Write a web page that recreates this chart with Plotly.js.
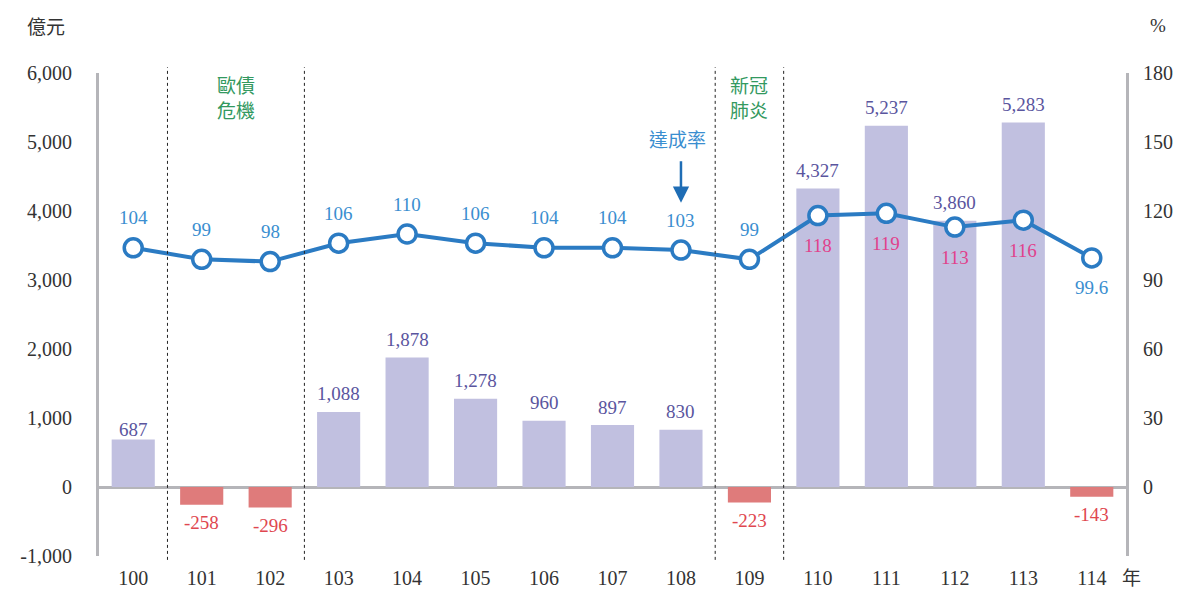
<!DOCTYPE html>
<html>
<head>
<meta charset="utf-8">
<script src="https://cdn.plot.ly/plotly-3.0.1.min.js"></script>
<style>html,body{margin:0;padding:0;background:#fff;}#chart{width:1185px;height:589px;}</style>
</head>
<body>
<div id="chart"></div>
<script>
const years = ['100','101','102','103','104','105','106','107','108','109','110','111','112','113','114'];
const profit = [687,-258,-296,1088,1878,1278,960,897,830,-223,4327,5237,3860,5283,-143];
const rate = [104,99,98,106,110,106,104,104,103,99,118,119,113,116,99.6];
const rateLabels = ['104','99','98','106','110','106','104','104','103','99','118','119','113','116','99.6'];
const rateBelow = [false,false,false,false,false,false,false,false,false,false,true,true,true,true,true];
const leftTicks = [-1000,0,1000,2000,3000,4000,5000,6000];
const leftTickText = ['-1,000','0','1,000','2,000','3,000','4,000','5,000','6,000'];
const rightTicks = [0,30,60,90,120,150,180];
const dividers = [0.5,2.5,8.5,9.5];
const eventLabels = [{x:1.5,text:'歐債<br>危機'},{x:9,text:'新冠<br>肺炎'}];

const FONT = 'Liberation Serif, "Noto Sans CJK TC", serif';
const CJK = '"Noto Sans CJK TC", sans-serif';
const fmt = v => (v<0?'-':'') + Math.abs(v).toLocaleString('en-US');

const barTrace = {
  type:'bar', x:years, y:profit, yaxis:'y',
  marker:{color:profit.map(v=>v<0?'#df7b7b':'#c1c0e0')},
  hoverinfo:'skip'
};
const lineTrace = {
  type:'scatter', mode:'lines+markers', x:years, y:rate, yaxis:'y2',
  line:{color:'#2b7bc3', width:4},
  marker:{size:18, color:'#ffffff', line:{color:'#2b7bc3', width:3.5}},
  hoverinfo:'skip'
};

const annotations = [];
profit.forEach((v,i)=>{
  annotations.push({x:i, y:v, xref:'x', yref:'y', text:fmt(v), showarrow:false,
    yshift: v<0 ? -18 : (i===0 ? 10 : 18),
    font:{family:FONT, size:19, color: v<0 ? '#e0474f' : '#5a559e'}});
});
rate.forEach((v,i)=>{
  const below = rateBelow[i];
  annotations.push({x:i, y:v, xref:'x', yref:'y2', text:rateLabels[i], showarrow:false,
    yshift: below ? -30 : 30,
    font:{family:FONT, size:19, color: below && i<14 ? '#e0428c' : '#3a8ed0'}});
});
eventLabels.forEach(e=>{
  annotations.push({x:e.x, y:6000, xref:'x', yref:'y', text:e.text, showarrow:false, yanchor:'top', yshift:4,
    font:{family:CJK, size:19, color:'#33995f'}});
});
annotations.push({x:8, y:4120, xref:'x', yref:'y', ax:0, ay:-54, text:' ', showarrow:true,
  arrowhead:2, arrowsize:1.3, arrowwidth:2.5, arrowcolor:'#1f6db5'});
annotations.push({x:7.95, y:5000, xref:'x', yref:'y', text:'達成率', showarrow:false, yshift:4,
  font:{family:CJK, size:19, color:'#3a8ed0'}});
annotations.push({x:1, y:0, xref:'paper', yref:'paper', text:'年', showarrow:false,
  xanchor:'left', yanchor:'middle', xshift:-6, yshift:-20, font:{family:CJK, size:19, color:'#333'}});
annotations.push({x:0, y:1, xref:'paper', yref:'paper', text:'億元', showarrow:false,
  xanchor:'center', yanchor:'middle', xshift:-53, yshift:48, font:{family:CJK, size:19, color:'#333'}});
annotations.push({x:1, y:1, xref:'paper', yref:'paper', text:'%', showarrow:false,
  xanchor:'center', yanchor:'middle', xshift:32, yshift:48, font:{family:FONT, size:19, color:'#333'}});

const shapes = dividers.map(d=>({type:'line', xref:'x', yref:'paper', x0:d, x1:d, y0:-0.008, y1:1.012,
  line:{color:'#222', width:1, dash:'dot'}}));

const layout = {
  width:1185, height:589,
  margin:{l:99, r:59, t:73, b:33},
  paper_bgcolor:'#fff', plot_bgcolor:'#fff',
  showlegend:false, bargap:0.37,
  font:{family:FONT, size:20, color:'#333'},
  xaxis:{type:'category', range:[-0.5,14.5], showline:false, showgrid:false, zeroline:false,
    ticks:'', tickfont:{family:FONT, size:20, color:'#333'}, ticklabelstandoff:8, fixedrange:true},
  yaxis:{range:[-1000,6000], tickvals:leftTicks, ticktext:leftTickText, showgrid:false,
    zeroline:true, zerolinecolor:'#b5b5b9', zerolinewidth:3,
    showline:true, linecolor:'#b5b5b9', linewidth:3, ticks:'', ticklabelstandoff:20,
    tickfont:{family:FONT, size:20, color:'#333'}},
  yaxis2:{range:[-30,180], tickvals:rightTicks, overlaying:'y', side:'right', showgrid:false,
    zeroline:false, showline:true, linecolor:'#b5b5b9', linewidth:3, ticks:'', ticklabelstandoff:10,
    tickfont:{family:FONT, size:20, color:'#333'}},
  annotations:annotations, shapes:shapes
};

Plotly.newPlot('chart',[barTrace,lineTrace],layout,{displayModeBar:false, staticPlot:true});
</script>
</body>
</html>
